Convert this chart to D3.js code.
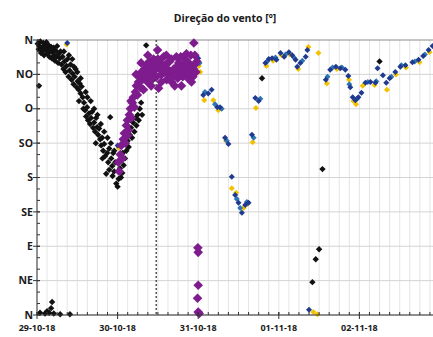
<!DOCTYPE html>
<html>
<head>
<meta charset="utf-8">
<script src="https://cdn.jsdelivr.net/npm/d3@7"></script>
<style>
  body { margin: 0; background: #fff; }
  text { font-family: "Open Sans", "DejaVu Sans", sans-serif; font-weight: bold; fill: #1a1a1a; }
</style>
</head>
<body>
<div id="chart"></div>
<script>
// horas desde 29-10-18 00:00, direção em graus
const pretoPts = [
  [0.2,355],[0.5,348],[0.7,352],[1.0,358],[1.2,343],[1.4,350],[1.7,346],[1.9,356],[2.1,340],[2.3,352],
  [2.6,347],[2.8,357],[3.0,342],[3.2,349],[3.5,353],[3.7,338],[3.9,345],[4.2,351],[4.4,336],[4.6,344],
  [4.9,350],[5.1,340],[5.3,333],[5.6,346],[5.8,338],[6.0,352],[6.3,330],[6.5,342],[6.8,336],[7.0,345],[0.6,300],
  [7.3,328],[7.6,338],[7.9,322],[8.2,332],[8.5,318],[8.8,326],[9.1,335],[9.4,312],[9.7,320],[10.0,328],
  [10.3,308],[10.6,316],[10.9,302],[11.2,312],[11.5,322],[11.8,298],[12.1,306],[12.4,295],[12.7,303],
  [13.0,290],[13.3,299],[13.6,285],
  [8.0,345],[9.5,340],[10.5,335],[11.0,325],[12.0,318],[13.0,310],[12.5,280],[13.8,270],
  [14.0,278],[14.3,268],[14.6,260],[14.9,272],[15.2,255],[15.5,264],[15.8,250],[16.1,258],[16.4,266],
  [16.7,245],[17.0,252],[17.3,240],[17.6,258],[17.9,246],[18.2,236],[18.5,244],
  [14.5,292],[15.0,285],[16.0,280],[17.0,270],[18.0,262],[17.5,225],[19.0,250],[19.5,205],
  [18.8,230],[19.1,222],[19.4,232],[19.7,215],[20.0,224],[20.3,208],[20.6,185],[20.9,212],[21.2,200],
  [21.5,218],[21.8,259],[22.1,205],[22.4,195],[22.7,212],[23.0,188],[23.3,200],[23.6,172],[24.0,168],
  [24.3,178],[24.7,192],[25.0,180],[25.4,186],[25.8,196],
  [20.0,240],[21.0,232],[22.0,225],[23.0,215],[21.5,190],[22.5,182],[24.5,200],[25.5,212],
  [26.2,205],[26.6,215],[27.0,228],[27.3,220],[27.6,236],[28.0,245],[28.3,232],[28.6,252],[29.0,240],
  [29.3,258],[29.6,248],[30.0,262],[30.3,255],[30.6,270],[31.0,278],[31.3,262],[32.5,353],[34.6,308],
  [0.9,3],[2.4,2],[3.0,5],[3.6,3],[4.2,9],[4.5,17],[5.0,2],[6.9,1],[9.8,1],
  [67,310],[82,43],[83,73],[84,86],[85,191],[102,332]
];

const roxoPts = [
  [24.2,200],[24.5,188],[24.8,210],[25.1,222],[25.4,205],[25.7,230],[26.0,238],[26.3,225],[26.6,248],
  [26.9,255],[27.2,242],[27.5,262],[27.8,270],[28.1,258],[28.4,278],[28.7,285],[29.0,272],[29.3,292],
  [29.6,300],[29.9,288],[30.2,305],[30.5,312],[30.8,298],[31.1,318],[31.4,308],[31.7,295],[32.0,322],
  [32.3,312],[32.6,328],[32.9,305],[33.2,318],[33.5,332],[33.8,315],[34.1,325],[34.4,310],[34.7,335],
  [35.0,320],[35.3,328],[35.6,312],[35.9,347],[36.2,297],[36.5,322],[36.8,330],[37.1,315],[37.4,325],
  [37.7,338],[38.0,318],[38.3,328],[38.6,308],[38.9,322],[39.2,315],[39.5,332],[39.8,318],[40.1,305],
  [40.4,312],[40.7,322],[41.0,300],[41.3,315],[41.6,325],[41.9,310],[42.2,330],[42.5,318],[42.8,338],
  [43.1,322],[43.4,312],[43.7,328],[44.0,335],[44.3,318],[44.6,325],[44.9,310],[45.2,330],[45.5,318],
  [45.8,340],[46.1,322],[46.4,312],[46.7,356],[47.0,328],[47.3,318],[47.6,332],
  [27.0,235],[28.0,280],[29.5,315],[31.0,330],[33.0,340],[34.0,300],[36.0,335],[37.0,305],[38.5,340],
  [40.0,335],[41.5,338],[43.0,300],[44.5,342],[46.0,305],[47.0,340],
  [47.9,88],[48.0,82],[48.0,39],[47.8,22],[48.0,4],[48.3,2]
];

const azulPts = [
  [4.0,348],[9.0,356],[24.0,222],
  [48.0,336],[49.5,288],[51.0,290],[52.0,295],[53.7,272],[54.5,272],[56.0,232],[57.0,224],[58.0,181],
  [59.0,157],[60.0,147],[61.0,134],[62.0,144],[63.0,147],[64.0,236],[65.0,284],[66.0,280],[68.0,330],
  [69.0,335],[70.0,336],[71.3,334],[72.5,343],[73.6,338],[75.0,344],[76.0,340],[77.0,334],[77.5,325],
  [78.4,330],[80.0,338],[80.5,347],[81.0,7],[86.0,308],[87.3,321],[89.0,325],[90.3,323],[91.8,321],
  [92.7,313],[93.3,298],[94.0,285],[94.8,281],[95.7,285],[96.6,291],[97.8,304],[99.3,305],[100.8,304],
  [101.4,323],[103.0,314],[104.0,304],[105.0,310],[106.7,318],[108.2,325],[109.7,327],[111.8,331],
  [113.6,334],[115.0,339],[116.6,347],[117.8,352]
];

const azulClaroPts = [
  [46.8,330],[47.2,322],[48.4,330],[50.0,292],[53.0,276],[55.0,270],[56.5,228],[59.5,152],[60.5,140],
  [62.5,148],[64.5,232],[66.5,283],[68.5,332],[71.0,337],[74.0,341],[76.5,337],[79.0,333],[86.5,312],
  [88.0,324],[90.8,324],[93.0,302],[95.3,283],[98.5,305],[101.0,306],[105.5,312],[108.5,327],
  [112.5,332],[115.5,341]
];

const amareloPts = [
  [2.5,345],[4.2,337],[8.8,354],[24.3,219],[48.2,326],[48.6,318],[49.8,281],[52.5,281],[54.0,268],
  [56.3,228],[58.0,166],[59.3,160],[61.5,140],[62.5,145],[64.2,226],[65.2,271],[68.3,326],[70.3,333],
  [72.8,340],[75.3,341],[77.8,322],[80.8,351],[82.3,4],[83.5,1],[83.8,343],[86.3,303],[89.3,322],
  [92.9,308],[94.2,280],[95.0,276],[97.0,300],[100.5,301],[104.2,295],[106.9,315],[109.9,324],
  [113.9,331],[116.9,344]
];

const dirLabels = ["N", "NE", "E", "SE", "S", "SO", "O", "NO", "N"];
const dirTicks = [0, 45, 90, 135, 180, 225, 270, 315, 360];
const marcaHora = 35.5; // linha tracejada

const width = 433, height = 337;
const margin = {top: 40, right: -7, bottom: 22, left: 37};
const base = new Date(2018, 9, 29);
const toDate = h => new Date(base.getTime() + h * 3600e3);

const svg = d3.select("#chart").append("svg")
  .attr("width", width)
  .attr("height", height);

const x = d3.scaleTime()
  .domain([base, new Date(2018, 10, 3)])
  .range([margin.left, width - margin.right]);

const y = d3.scaleLinear()
  .domain([0, 360])
  .range([height - margin.bottom, margin.top]);

// grelha
svg.append("g")
  .selectAll("line")
  .data(x.ticks(d3.timeHour.every(3)))
  .enter().append("line")
  .attr("x1", d => x(d)).attr("x2", d => x(d))
  .attr("y1", y(0)).attr("y2", y(360))
  .attr("stroke", "#dedede")
  .attr("stroke-width", 0.8);

svg.append("g")
  .selectAll("line")
  .data(dirTicks)
  .enter().append("line")
  .attr("x1", margin.left).attr("x2", width)
  .attr("y1", d => y(d)).attr("y2", d => y(d))
  .attr("stroke", d => d === 360 ? "#8a8a8a" : "#d4d4d4")
  .attr("stroke-width", 1);

// linha tracejada
svg.append("line")
  .attr("x1", x(toDate(marcaHora))).attr("x2", x(toDate(marcaHora)))
  .attr("y1", y(360)).attr("y2", y(0))
  .attr("stroke", "#555")
  .attr("stroke-width", 1.5)
  .attr("stroke-dasharray", "2,2");

// pontos
const diamond = r => `M0,${-r}L${r},0L0,${r}L${-r},0Z`;
const series = [
  {pts: amareloPts, color: "#f2c200", r: 3},
  {pts: azulClaroPts, color: "#2e75b6", r: 3},
  {pts: azulPts, color: "#1f3a8f", r: 3},
  {pts: pretoPts, color: "#111111", r: 3.2},
  {pts: roxoPts, color: "#7e1c8e", r: 4.8}
];

series.forEach(s => {
  svg.append("g")
    .selectAll("path")
    .data(s.pts)
    .enter().append("path")
    .attr("d", diamond(s.r))
    .attr("transform", d => `translate(${x(toDate(d[0]))},${y(d[1])})`)
    .attr("fill", s.color);
});

// eixo y
const yAxis = svg.append("g").attr("transform", `translate(${margin.left},0)`);
yAxis.append("line")
  .attr("x1", 0).attr("x2", 0)
  .attr("y1", y(0)).attr("y2", y(360))
  .attr("stroke", "#333");
yAxis.selectAll(".minor")
  .data(d3.range(0, 361, 15))
  .enter().append("line")
  .attr("x1", 0).attr("x2", 3)
  .attr("y1", d => y(d)).attr("y2", d => y(d))
  .attr("stroke", "#333");
yAxis.selectAll(".major")
  .data(dirTicks)
  .enter().append("line")
  .attr("x1", -4).attr("x2", 3)
  .attr("y1", d => y(d)).attr("y2", d => y(d))
  .attr("stroke", "#333");
yAxis.selectAll("text")
  .data(dirTicks)
  .enter().append("text")
  .attr("x", -4)
  .attr("y", d => y(d))
  .attr("dy", "0.35em")
  .attr("text-anchor", "end")
  .style("font-size", "10.5px")
  .text((d, i) => dirLabels[i]);

// eixo x
const xAxis = svg.append("g").attr("transform", `translate(0,${y(0)})`);
xAxis.append("line")
  .attr("x1", margin.left).attr("x2", width)
  .attr("stroke", "#333");
xAxis.selectAll(".minor")
  .data(x.ticks(d3.timeHour.every(3)))
  .enter().append("line")
  .attr("x1", d => x(d)).attr("x2", d => x(d))
  .attr("y1", -3).attr("y2", 0)
  .attr("stroke", "#333");
const dias = x.ticks(d3.timeDay.every(1)).filter(d => x(d) < width);
xAxis.selectAll(".major")
  .data(dias)
  .enter().append("line")
  .attr("x1", d => x(d)).attr("x2", d => x(d))
  .attr("y1", -3).attr("y2", 4)
  .attr("stroke", "#333");
xAxis.selectAll("text")
  .data(dias)
  .enter().append("text")
  .attr("x", d => x(d))
  .attr("y", 16)
  .attr("text-anchor", "middle")
  .style("font-size", "9px")
  .text(d3.timeFormat("%d-%m-%y"));

// título
svg.append("text")
  .attr("x", 225)
  .attr("y", 22)
  .attr("text-anchor", "middle")
  .style("font-size", "10.5px")
  .text("Direção do vento [º]");
</script>
</body>
</html>
